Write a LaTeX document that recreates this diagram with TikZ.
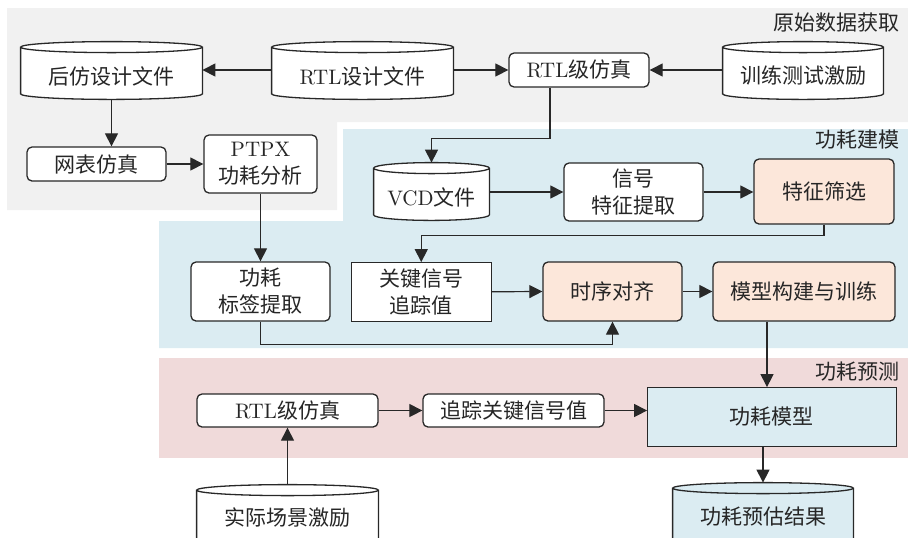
\documentclass[tikz,border=0pt]{standalone}
\usepackage{fontspec}
\newfontfamily\cjk{Noto Sans CJK SC}
\usetikzlibrary{arrows.meta,calc}
\newcommand\zh[1]{{\cjk #1}}
\pgfdeclarelayer{background}
\pgfsetlayers{background,main}
\definecolor{grayreg}{RGB}{241,241,241}
\definecolor{bluereg}{RGB}{219,236,242}
\definecolor{pinkreg}{RGB}{240,218,218}
\definecolor{peach}{RGB}{252,231,218}
\definecolor{bluebox}{RGB}{219,236,242}
\definecolor{linec}{RGB}{40,40,40}
\newcommand\cyldraw[3][0pt]{%
  \path[draw=linec, line width=0.65pt, fill=#3] let \p1=(#2.north west), \p2=(#2.south east) in
    (\x1,\y1+2.75pt) -- (\x1,\y2+2.75pt-#1)
    arc[start angle=180,end angle=360,x radius={0.5*(\x2-\x1)},y radius=2.75pt]
    -- (\x2,\y1+2.75pt)
    arc[start angle=0,end angle=180,x radius={0.5*(\x2-\x1)},y radius=2.75pt] -- cycle
    (\x1,\y1+2.75pt)
    arc[start angle=180,end angle=360,x radius={0.5*(\x2-\x1)},y radius=2.75pt];
}
\begin{document}
\begin{tikzpicture}[x=0.5pt,y=-0.5pt,
  every node/.style={font=\fontsize{10.5}{13.5}\selectfont, inner sep=0pt, align=center, text=black!85},
  wd/.style={minimum width={#1*0.5pt}},
  ht/.style={minimum height={#1*0.5pt}},
  rbox/.style={draw=linec, line width=0.65pt, rounded corners=2.5pt, fill=white},
  sbox/.style={draw=linec, line width=0.4pt, fill=white},
  cylnode/.style={rectangle},
  arr/.style={draw=linec, line width=0.6pt, -{Triangle[length=6.5pt,width=6.5pt]}},
  lab/.style={anchor=east}]
\useasboundingbox (0,0) rectangle (908,537);
\clip (0,0) rectangle (908,537);

% nodes
\node[cylnode,wd=181,ht=46] (hf) at (111.5,76) {\zh{后仿设计文件}};
\node[cylnode,wd=181,ht=46] (rtl) at (362.5,76) {RTL\zh{设计文件}};
\node[rbox,wd=140,ht=34] (rsim) at (579,70) {RTL\zh{级仿真}};
\node[cylnode,wd=160,ht=46] (train) at (803,76) {\zh{训练测试激励}};
\node[rbox,wd=139,ht=34] (net) at (96.5,164) {\zh{网表仿真}};
\node[rbox,wd=113,ht=58] (ptpx) at (260.5,164) {PTPX\\\zh{功耗分析}};
\node[cylnode,wd=115,ht=46] (vcd) at (431.5,197) {VCD\zh{文件}};
\node[rbox,wd=139,ht=58] (sig) at (633.5,192) {\zh{信号}\\\zh{特征提取}};
\node[rbox,fill=peach,wd=140,ht=65] (fs) at (824,191.5) {\zh{特征筛选}};
\node[rbox,wd=139,ht=59] (pl) at (260.5,291.5) {\zh{功耗}\\\zh{标签提取}};
\node[sbox,wd=139.5,ht=58.5] (key) at (421.25,291.75) {\zh{关键信号}\\\zh{追踪值}};
\node[rbox,fill=peach,wd=139,ht=59] (ta) at (612.5,291.5) {\zh{时序对齐}};
\node[rbox,fill=peach,wd=182,ht=59] (mb) at (804,291.5) {\zh{模型构建与训练}};
\node[rbox,wd=181,ht=33] (rsim2) at (287.5,410.5) {RTL\zh{级仿真}};
\node[rbox,wd=181,ht=33] (trk) at (513.5,410.5) {\zh{追踪关键信号值}};
\node[sbox,fill=bluebox,wd=248.5,ht=58.5] (pm) at (771.75,416.75) {\zh{功耗模型}};
\node[cylnode,wd=181,ht=42] (real) at (287.5,517) {\zh{实际场景激励}};
\node[cylnode,wd=180,ht=46] (res) at (763,517) {\zh{功耗预估结果}};

% region labels
\node[lab] (l1) at (900,23) {\zh{原始数据获取}};
\node[lab] (l2) at (900,140) {\zh{功耗建模}};
\node[lab] (l3) at (900,372) {\zh{功耗预测}};

% backgrounds and cylinders
\begin{pgfonlayer}{background}
\clip (0,0) rectangle (908,537);
\fill[grayreg] (7,8) -- (908,8) -- (908,122) -- (337,122) -- (337,210) -- (7,210) -- cycle;
\fill[bluereg] (343,129) -- (908,129) -- (908,348) -- (159,348) -- (159,221) -- (343,221) -- cycle;
\fill[pinkreg] (159,358) rectangle (908,458);
\cyldraw{hf}{white}
\cyldraw{rtl}{white}
\cyldraw{train}{white}
\cyldraw{vcd}{white}
\cyldraw[30pt]{real}{white}
\cyldraw[30pt]{res}{bluebox}
\end{pgfonlayer}

% connectors
\draw[arr] (rtl.west |- rsim.west) -- (hf.east |- rsim.west);
\draw[arr] (rtl.east |- rsim.west) -- (rsim.west);
\draw[arr] (train.west |- rsim.east) -- (rsim.east);
\draw[arr] (hf.south) -- (hf.south |- net.north);
\draw[arr] (net.east) -- (ptpx.west);
\draw[arr] (ptpx.south) -- (pl.north);
\draw[arr] ([xshift=-14.5pt]rsim.south) -- ++(0,51) -| ([yshift=5.5pt]vcd.north);
\draw[arr] (vcd.east |- sig.west) -- (sig.west);
\draw[arr] (sig.east) -- (fs.west |- sig.east);
\draw[arr] (fs.south) -- ++(0,11) -| (key.north);
\draw[arr] (key.east) -- (ta.west);
\draw[arr] (ta.east) -- (mb.west);
\draw[arr] (pl.south) -- ++(0,23) -| (ta.south);
\path ([xshift=-18.5pt]mb.south) coordinate (mbo);
\draw[arr] (mbo) -- (mbo |- pm.north);
\draw[arr] (rsim2.east) -- (trk.west);
\draw[arr] (trk.east) -- (trk.east -| pm.west);
\draw[arr] ([yshift=5.5pt]real.north) -- (rsim2.south);
\draw[arr] (res.north |- pm.south) -- ([yshift=5.5pt]res.north);
\end{tikzpicture}
\end{document}
